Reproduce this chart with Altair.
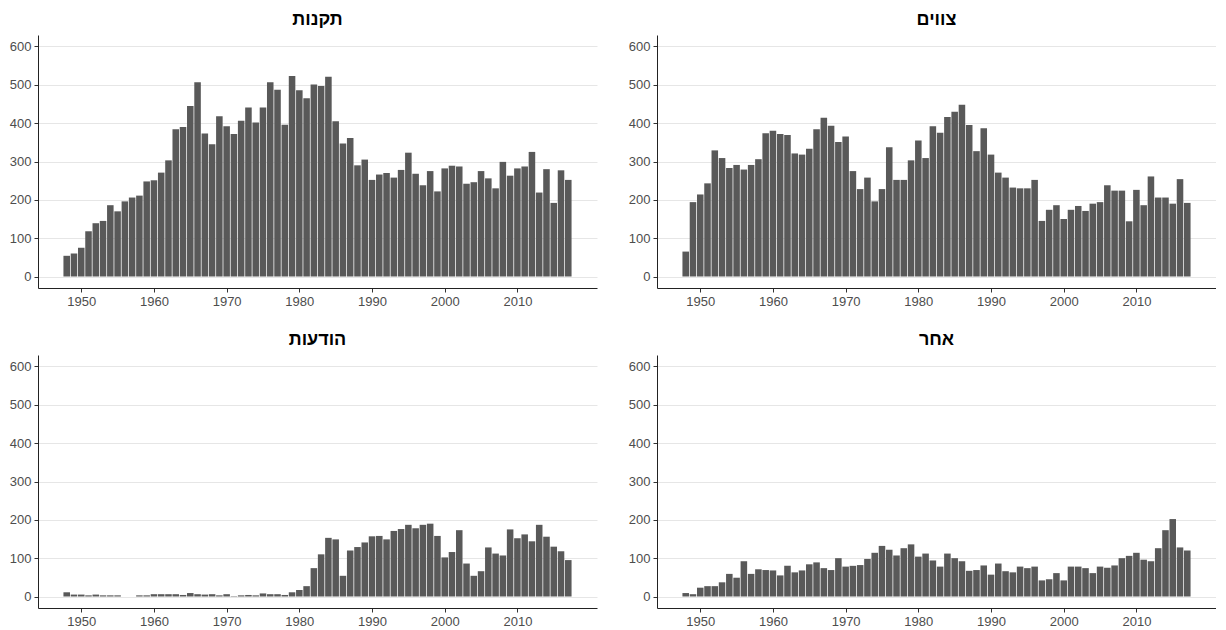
import altair as alt
import pandas as pd

years = list(range(1948, 2018))

takanot = [54, 60, 75, 118, 139, 145, 186, 170, 196, 206,
           211, 248, 251, 271, 303, 384, 390, 445, 507, 373,
           345, 418, 392, 372, 406, 441, 402, 441, 507, 487,
           396, 523, 486, 465, 501, 497, 521, 405, 347, 361,
           290, 305, 252, 266, 270, 258, 278, 323, 268, 238,
           275, 222, 282, 289, 287, 242, 246, 275, 256, 230,
           299, 263, 282, 287, 325, 219, 280, 192, 277, 252]

tzavim = [65, 194, 214, 243, 329, 309, 283, 291, 279, 291,
          306, 374, 380, 372, 369, 321, 318, 333, 384, 414,
          393, 351, 365, 275, 228, 258, 196, 228, 337, 252,
          252, 303, 355, 309, 392, 375, 416, 430, 448, 395,
          327, 387, 318, 271, 258, 232, 230, 230, 252, 145,
          174, 186, 150, 174, 184, 171, 190, 194, 238, 224,
          224, 144, 226, 186, 261, 206, 206, 190, 254, 192]

hodaot = [11, 5, 5, 3, 5, 3, 3, 3, 0, 0,
          3, 3, 6, 6, 6, 6, 4, 9, 6, 5,
          6, 3, 6, 1, 3, 4, 3, 8, 6, 6,
          4, 11, 17, 27, 74, 110, 153, 149, 54, 120,
          129, 141, 157, 158, 149, 171, 176, 187, 178, 187,
          190, 158, 102, 116, 173, 86, 54, 66, 128, 112,
          107, 175, 152, 162, 144, 187, 156, 130, 118, 95]

acher = [9, 6, 23, 27, 27, 37, 59, 49, 92, 59,
         71, 69, 68, 55, 80, 63, 68, 84, 89, 74,
         69, 100, 78, 80, 82, 98, 114, 132, 122, 107,
         126, 136, 104, 112, 94, 78, 112, 100, 92, 67,
         69, 81, 57, 86, 66, 63, 78, 74, 78, 42,
         45, 61, 42, 78, 78, 74, 61, 78, 75, 81,
         100, 106, 114, 96, 92, 126, 173, 202, 128, 120]

series = {
    "תקנות": takanot,
    "צווים": tzavim,
    "הודעות": hodaot,
    "אחר": acher,
}

rows = []
for name, vals in series.items():
    for y, v in zip(years, vals):
        rows.append({"type": name, "year": y, "count": v})
df = pd.DataFrame(rows)

x_ticks = [1950, 1960, 1970, 1980, 1990, 2000, 2010]
y_ticks = [0, 100, 200, 300, 400, 500, 600]

W, H = 559, 253


def panel(name):
    base = alt.Chart(df).transform_filter(alt.datum.type == name).transform_calculate(
        x0="datum.year - 0.45", x1="datum.year + 0.45"
    )
    bars = base.mark_bar(color="#595959").encode(
        x=alt.X("x0:Q", title=None,
                scale=alt.Scale(domain=[1944.05, 2020.95], nice=False, zero=False),
                axis=alt.Axis(values=x_ticks, format="d", grid=False, tickSize=4,
                              labelPadding=3)),
        x2="x1:Q",
        y=alt.Y("count:Q", title=None,
                scale=alt.Scale(domain=[-30, 630], nice=False, zero=False),
                axis=alt.Axis(values=y_ticks, grid=True, tickSize=4, labelPadding=3,
                              minExtent=30, maxExtent=30)),
        y2=alt.datum(0),
    )
    return bars.properties(
        width=W, height=H,
        title=alt.TitleParams(name, fontSize=18, fontWeight="bold", font="Liberation Sans",
                              color="#000000", anchor="middle", offset=6),
    )


chart = alt.vconcat(
    alt.hconcat(panel("תקנות"), panel("צווים"), spacing=30),
    alt.hconcat(panel("הודעות"), panel("אחר"), spacing=30),
    spacing=23,
).properties(
    padding={"top": 3, "left": 0, "right": 0, "bottom": 0}
).configure_view(stroke=None).configure_axis(
    domainColor="#222222", domainWidth=1, tickColor="#333333",
    labelColor="#4d4d4d", labelFontSize=13, labelFont="Liberation Sans",
    gridColor="#e6e6e6", gridWidth=1,
)

chart.save("out.html", embed_options={"renderer": "svg", "actions": False})
